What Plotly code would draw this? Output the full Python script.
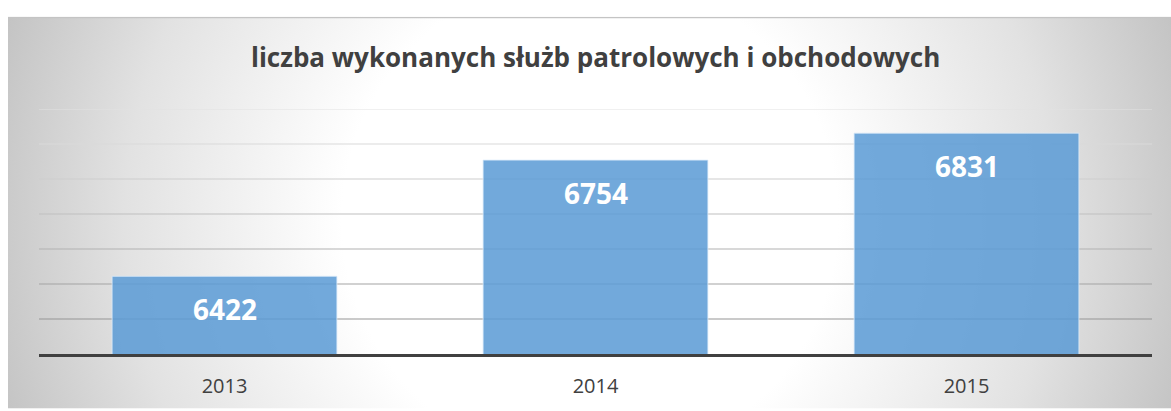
import base64
import plotly.graph_objects as go

# ---- data ----
years = ["2013", "2014", "2015"]
values = [6422, 6754, 6831]
y_ticks = [6200, 6300, 6400, 6500, 6600, 6700, 6800, 6900]
title_text = "liczba wykonanych służb patrolowych i obchodowych"

W, H = 1171, 411
ML, MR, MT, MB = 39, 19, 109, 55
plot_w = W - ML - MR
plot_h = H - MT - MB

# radial gradient background (chart area) as an SVG image
bx0, by0 = 8, 16
bw, bh = W - bx0, H - by0
svg = f'''<svg xmlns="http://www.w3.org/2000/svg" width="{bw}" height="{bh}" viewBox="0 0 {bw} {bh}" preserveAspectRatio="none">
<defs><radialGradient id="g" gradientUnits="userSpaceOnUse" cx="{582}" cy="{204}" r="{620}">
<stop offset="0" stop-color="#ffffff"/><stop offset="0.40" stop-color="#ffffff"/>
<stop offset="0.75" stop-color="#e2e2e2"/><stop offset="1" stop-color="#c3c3c3"/></radialGradient></defs>
<rect x="0" y="0" width="{bw}" height="{bh}" fill="url(#g)"/>
<rect x="0" y="0" width="{bw}" height="1.5" fill="#c4c4c4"/>
</svg>'''
src = "data:image/svg+xml;base64," + base64.b64encode(svg.encode()).decode()

fig = go.Figure()
fig.add_trace(go.Bar(
    x=years, y=values,
    marker=dict(color="rgba(91,155,213,0.86)", line=dict(color="rgba(220,235,250,0.8)", width=1)),
    hoverinfo="skip",
))

# gridlines with vertical fade
grid_colors = ["#8a8a8a", "#969696", "#a4a4a4", "#b2b2b2", "#c0c0c0", "#cdcdcd", "#dadada", "#e2e2e2"]
shapes = []
for t, c in zip(y_ticks[1:], grid_colors[1:]):
    shapes.append(dict(type="line", xref="paper", yref="y", x0=0, x1=1, y0=t, y1=t,
                       line=dict(color=c, width=1.2), layer="below"))

annotations = [dict(x=i, y=v, xref="x", yref="y", text=f"<b>{v}</b>", showarrow=False,
                    yanchor="middle", yshift=-33,
                    font=dict(family="Open Sans", size=28, color="white"))
               for i, v in enumerate(values)]
annotations.append(dict(x=(595 - ML) / plot_w, y=(H - 57 - MB) / plot_h, xref="paper", yref="paper",
                        text=f"<b>{title_text}</b>", showarrow=False, xanchor="center", yanchor="middle",
                        font=dict(family="Open Sans", size=26, color="#404040")))

fig.update_layout(
    width=W, height=H,
    margin=dict(l=ML, r=MR, t=MT, b=MB),
    paper_bgcolor="white", plot_bgcolor="rgba(0,0,0,0)",
    bargap=0.394,
    showlegend=False,
    shapes=shapes,
    annotations=annotations,
    images=[dict(source=src, xref="paper", yref="paper",
                 x=(bx0 - ML) / plot_w, y=1 + (MT - by0) / plot_h,
                 sizex=bw / plot_w, sizey=bh / plot_h,
                 xanchor="left", yanchor="top", sizing="stretch", layer="below")],
    xaxis=dict(type="category", range=[-0.5, len(years) - 0.5], showline=True,
               linecolor="#404040", linewidth=3, ticks="", ticklabelstandoff=12,
               tickfont=dict(family="Open Sans", size=20, color="#404040"),
               showgrid=False, fixedrange=True),
    yaxis=dict(range=[y_ticks[0], y_ticks[-1]], tickvals=y_ticks, showticklabels=False,
               showgrid=False, zeroline=False, fixedrange=True),
)

fig.write_html("out.html", config={"displayModeBar": False},
               post_script="document.body.style.margin='0';document.body.style.padding='0';")
